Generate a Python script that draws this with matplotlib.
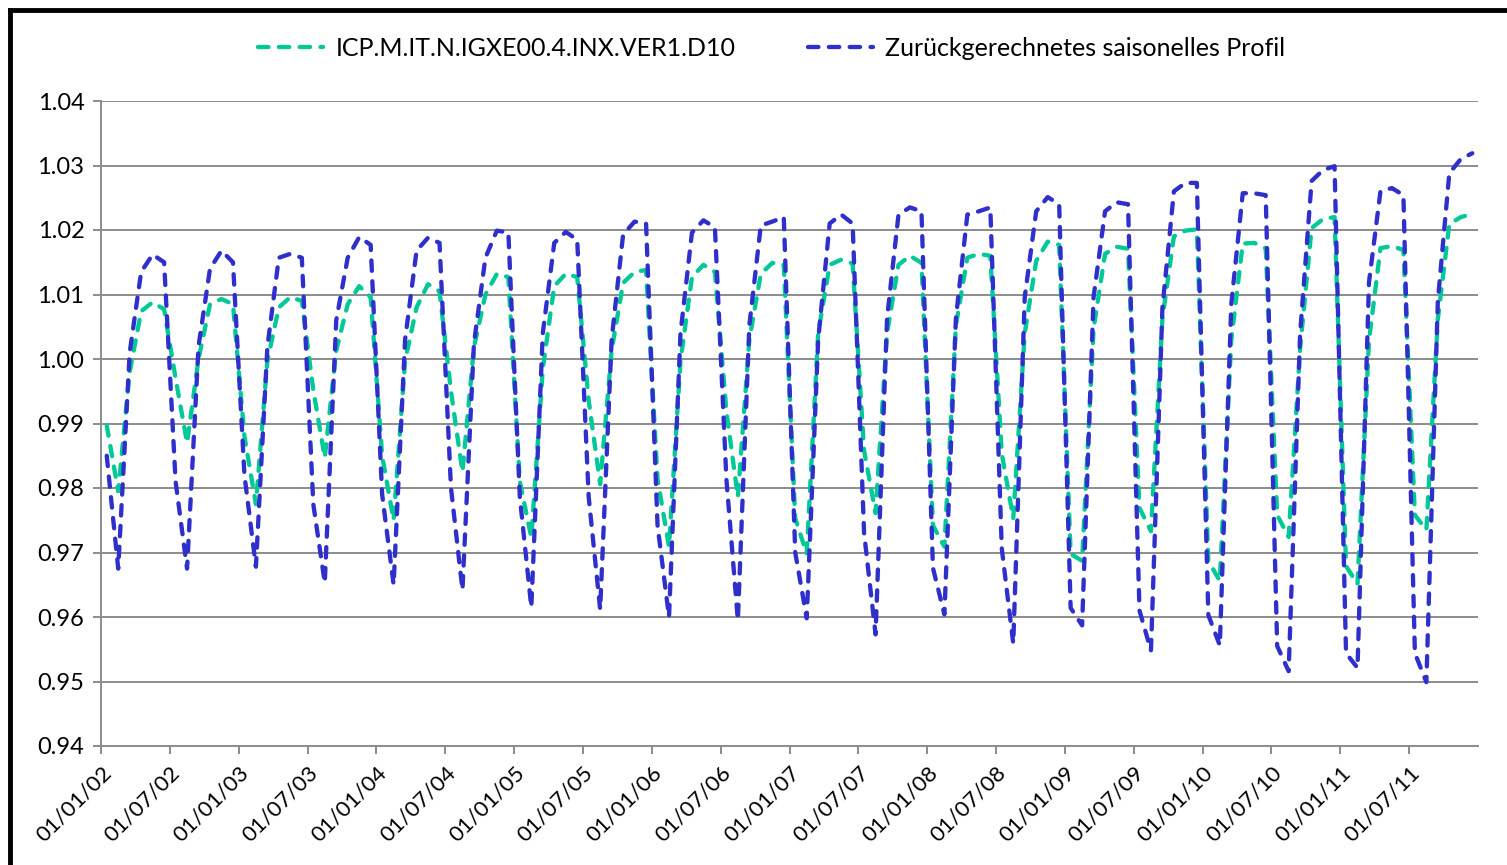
import numpy as np
import matplotlib
matplotlib.use("Agg")
import matplotlib.pyplot as plt
from matplotlib.lines import Line2D

plt.rcParams['font.family'] = ['Lato', 'DejaVu Sans']
plt.rcParams['lines.scale_dashes'] = False

# monthly values, Jan 2002 .. Dec 2011 (one row per year)
icp_series = [
    0.9897, 0.9795, 0.9980, 1.0074, 1.0088, 1.0077, 0.9970, 0.9870, 1.0000, 1.0085, 1.0093, 1.0085,
    0.9880, 0.9775, 0.9997, 1.0080, 1.0096, 1.0090, 0.9952, 0.9847, 1.0013, 1.0085, 1.0113, 1.0096,
    0.9850, 0.9750, 0.9997, 1.0080, 1.0116, 1.0105, 0.9950, 0.9825, 1.0018, 1.0100, 1.0132, 1.0127,
    0.9810, 0.9723, 0.9985, 1.0113, 1.0132, 1.0127, 0.9936, 0.9806, 1.0013, 1.0118, 1.0135, 1.0138,
    0.9814, 0.9709, 0.9997, 1.0127, 1.0146, 1.0135, 0.9919, 0.9786, 1.0030, 1.0132, 1.0149, 1.0146,
    0.9753, 0.9698, 1.0040, 1.0146, 1.0154, 1.0148, 0.9858, 0.9761, 1.0040, 1.0146, 1.0160, 1.0149,
    0.9742, 0.9709, 1.0052, 1.0157, 1.0163, 1.0160, 0.9853, 0.9753, 1.0040, 1.0152, 1.0182, 1.0177,
    0.9698, 0.9687, 1.0047, 1.0163, 1.0174, 1.0171, 0.9769, 0.9733, 1.0063, 1.0190, 1.0199, 1.0201,
    0.9687, 0.9656, 1.0030, 1.0179, 1.0180, 1.0172, 0.9758, 0.9724, 1.0017, 1.0203, 1.0217, 1.0220,
    0.9679, 0.9651, 1.0028, 1.0172, 1.0175, 1.0169, 0.9758, 0.9735, 1.0062, 1.0209, 1.0220, 1.0225,
]

profile_series = [
    0.9850, 0.9675, 1.0010, 1.0135, 1.0162, 1.0150, 0.9810, 0.9675, 1.0020, 1.0140, 1.0168, 1.0150,
    0.9820, 0.9678, 1.0019, 1.0157, 1.0163, 1.0157, 0.9775, 0.9653, 1.0060, 1.0157, 1.0189, 1.0177,
    0.9790, 0.9650, 1.0030, 1.0168, 1.0188, 1.0180, 0.9800, 0.9642, 1.0024, 1.0157, 1.0199, 1.0196,
    0.9786, 0.9615, 1.0040, 1.0180, 1.0197, 1.0185, 0.9786, 0.9612, 1.0030, 1.0193, 1.0213, 1.0210,
    0.9742, 0.9600, 1.0040, 1.0196, 1.0215, 1.0204, 0.9814, 0.9595, 1.0052, 1.0207, 1.0213, 1.0220,
    0.9700, 0.9598, 1.0030, 1.0210, 1.0224, 1.0210, 0.9730, 0.9573, 1.0063, 1.0224, 1.0235, 1.0229,
    0.9676, 0.9604, 1.0063, 1.0224, 1.0229, 1.0235, 0.9706, 0.9559, 1.0096, 1.0229, 1.0251, 1.0240,
    0.9614, 0.9587, 1.0096, 1.0229, 1.0243, 1.0240, 0.9610, 0.9548, 1.0080, 1.0260, 1.0273, 1.0273,
    0.9603, 0.9556, 1.0085, 1.0257, 1.0257, 1.0254, 0.9555, 0.9516, 1.0040, 1.0276, 1.0293, 1.0299,
    0.9544, 0.9521, 1.0119, 1.0260, 1.0265, 1.0254, 0.9544, 0.9499, 1.0090, 1.0288, 1.0310, 1.0319,
]

date_labels = ['01/01/02', '01/07/02', '01/01/03', '01/07/03', '01/01/04',
               '01/07/04', '01/01/05', '01/07/05', '01/01/06', '01/07/06',
               '01/01/07', '01/07/07', '01/01/08', '01/07/08', '01/01/09',
               '01/07/09', '01/01/10', '01/07/10', '01/01/11', '01/07/11']

names = ['ICP.M.IT.N.IGXE00.4.INX.VER1.D10',
         'Zurückgerechnetes saisonelles Profil']
colors = ['#00C896', '#2F2FCB']

W, H = 1507, 865
fig = plt.figure(figsize=(W / 100, H / 100), dpi=100)
ax = fig.add_axes([101 / W, 1 - 746 / H, (1478 - 101) / W, (746 - 101) / H])

x = np.arange(len(icp_series)) + 0.5
for vals, c, lab in zip([icp_series, profile_series], colors, names):
    ax.plot(x, vals, color=c, lw=3.1, dashes=(7.5, 7.5), dash_capstyle='round',
            label=lab)

ax.set_xlim(0, len(icp_series))
ax.set_ylim(0.94, 1.04)
ax.set_yticks(np.arange(0.94, 1.0401, 0.01))
ax.yaxis.set_major_formatter(plt.FormatStrFormatter('%.2f'))
ax.set_xticks(np.arange(0, len(icp_series), 6))
ax.set_xticklabels(date_labels, rotation=45, ha='right', va='top',
                   rotation_mode='anchor')

grid_c = '#8C8C8C'
ax.grid(axis='y', color=grid_c, lw=1.4)
ax.set_axisbelow(True)
for s in ['top', 'right']:
    ax.spines[s].set_visible(False)
for s in ['left', 'bottom']:
    ax.spines[s].set_color(grid_c)
    ax.spines[s].set_linewidth(1.4)
ax.tick_params(axis='both', colors=grid_c, width=1.4, length=6, labelcolor='black')
ax.tick_params(axis='y', labelsize=17, pad=6)
ax.tick_params(axis='x', labelsize=16, pad=6)

fig.legend(loc='center', bbox_to_anchor=(0.512, 1 - 48 / H), ncol=2,
           frameon=False, fontsize=18, handlelength=2.6, handletextpad=0.5,
           columnspacing=2.9)

# outer chart border (top and left visible)
fig.add_artist(Line2D([10 / W, 1], [1 - 10 / H, 1 - 10 / H], color='black', lw=3.5,
                      transform=fig.transFigure))
fig.add_artist(Line2D([10 / W, 10 / W], [0, 1 - 10 / H], color='black', lw=3.5,
                      transform=fig.transFigure))

fig.savefig('out.png', dpi=100)
